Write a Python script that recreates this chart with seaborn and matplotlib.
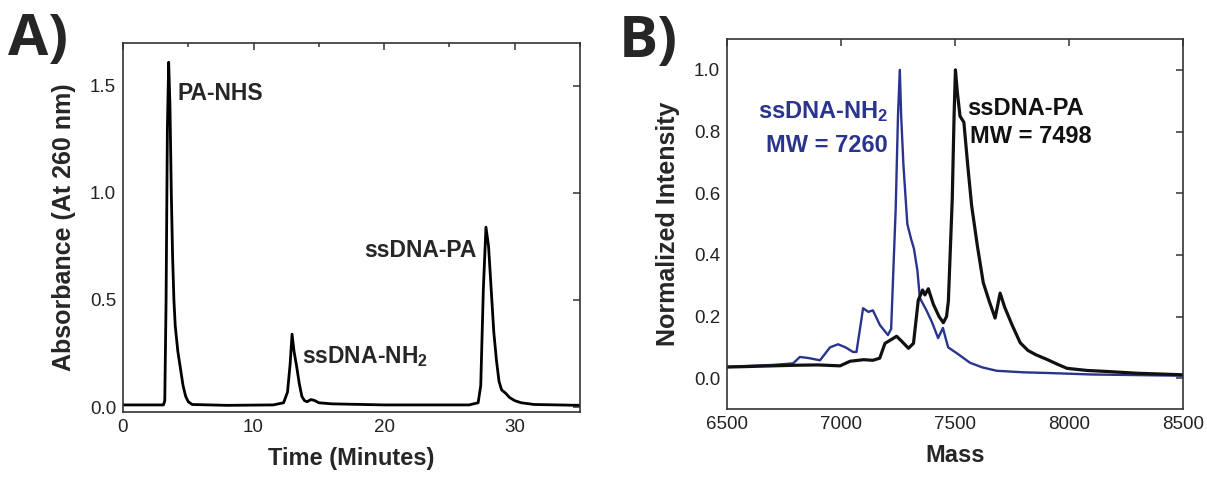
import pandas as pd
import matplotlib
matplotlib.use("Agg")
import matplotlib.pyplot as plt
from matplotlib.ticker import MultipleLocator
import seaborn as sns

RUTA_SALIDA = "out.png"

# --- Panel A: HPLC (tiempo en minutos, absorbancia a 260 nm) ---
tiempo = [0.0, 3.1, 3.2, 3.3, 3.4, 3.5, 3.6, 3.7, 3.8, 3.9, 4.0, 4.2, 4.4,
          4.6, 4.8, 5.0, 5.3, 8.0, 11.5, 12.3, 12.6, 12.8, 12.95, 13.1,
          13.3, 13.5, 13.7, 13.9, 14.1, 14.4, 14.7, 15.0, 16.0, 20.0, 26.5,
          27.2, 27.4, 27.6, 27.8, 28.0, 28.2, 28.4, 28.6, 28.8, 29.0, 29.3,
          29.6, 30.0, 30.5, 31.5, 35.0]
absorbancia = [0.01, 0.01, 0.03, 0.5, 1.3, 1.61, 1.4, 1.0, 0.7, 0.5, 0.38,
               0.26, 0.18, 0.10, 0.05, 0.025, 0.012, 0.008, 0.01, 0.02,
               0.07, 0.2, 0.34, 0.26, 0.19, 0.11, 0.05, 0.03, 0.025, 0.035,
               0.03, 0.02, 0.015, 0.01, 0.01, 0.02, 0.1, 0.55, 0.84, 0.75,
               0.55, 0.35, 0.22, 0.12, 0.08, 0.065, 0.045, 0.03, 0.02,
               0.012, 0.008]

# --- Panel B: MALDI (masa, intensidad normalizada) ---
masa_nh2 = [6500, 6600, 6700, 6790, 6820, 6860, 6908, 6952, 6987, 7020,
            7053, 7068, 7097, 7120, 7140, 7171, 7206, 7220, 7240, 7250,
            7258, 7264, 7274, 7291, 7308, 7320, 7335, 7346, 7375, 7400,
            7426, 7447, 7470, 7510, 7566, 7620, 7683, 7800, 7902, 8100,
            8300, 8500]
int_nh2 = [0.037, 0.040, 0.043, 0.048, 0.069, 0.065, 0.058, 0.10, 0.11,
           0.10, 0.085, 0.085, 0.227, 0.215, 0.22, 0.172, 0.14, 0.16, 0.55,
           0.85, 1.0, 0.85, 0.69, 0.50, 0.45, 0.42, 0.35, 0.26, 0.22, 0.18,
           0.13, 0.163, 0.10, 0.08, 0.05, 0.035, 0.024, 0.019, 0.017,
           0.012, 0.01, 0.008]

masa_pa = [6500, 6600, 6700, 6800, 6900, 6996, 7040, 7100, 7140, 7170,
           7193, 7220, 7244, 7266, 7296, 7318, 7339, 7358, 7368, 7383,
           7405, 7430, 7449, 7463, 7471, 7488, 7496, 7502, 7510, 7522,
           7539, 7556, 7573, 7598, 7624, 7650, 7676, 7698, 7718, 7752,
           7786, 7820, 7855, 7906, 7950, 7991, 8080, 8161, 8300, 8500]
int_pa = [0.036, 0.038, 0.040, 0.042, 0.043, 0.040, 0.055, 0.060, 0.058,
          0.065, 0.113, 0.125, 0.136, 0.12, 0.097, 0.113, 0.253, 0.286,
          0.27, 0.29, 0.24, 0.20, 0.18, 0.20, 0.25, 0.58, 0.85, 1.0, 0.93,
          0.85, 0.83, 0.69, 0.56, 0.43, 0.31, 0.25, 0.195, 0.276, 0.23,
          0.17, 0.115, 0.09, 0.076, 0.06, 0.045, 0.032, 0.025, 0.022,
          0.016, 0.011]

AZUL = "#29348f"
GRIS = "#333333"


def estilo_ejes(ax):
    for lado in ax.spines.values():
        lado.set_visible(True)
        lado.set_color(GRIS)
        lado.set_linewidth(1.2)
    ax.tick_params(which="both", direction="in", top=True, right=True,
                   color=GRIS, width=1.1, labelcolor="#222222",
                   labelsize=13.5, pad=5)
    ax.tick_params(which="major", length=5)
    ax.tick_params(which="minor", length=3)
    for t in ax.get_xticklabels() + ax.get_yticklabels():
        t.set_family("Liberation Sans")


def panel_a(fig):
    ax = fig.add_axes([0.1019, 0.1399, 0.3786, 0.7704])
    df = pd.DataFrame({"t": tiempo, "abs": absorbancia})
    sns.lineplot(data=df, x="t", y="abs", ax=ax, color="black", lw=2.0)
    ax.set_xlim(0, 35)
    ax.set_ylim(-0.023, 1.70)
    ax.xaxis.set_major_locator(MultipleLocator(10))
    ax.xaxis.set_minor_locator(MultipleLocator(5))
    ax.yaxis.set_major_locator(MultipleLocator(0.5))
    ax.set_xlabel("Time (Minutes)", fontsize=17, fontweight="bold",
                  family="Liberation Sans", labelpad=8)
    ax.set_ylabel("Absorbance (At 260 nm)", fontsize=18, fontweight="bold",
                  family="Liberation Sans", labelpad=10)
    estilo_ejes(ax)

    kw = dict(fontsize=16.5, fontweight="bold", family="Liberation Sans")
    ax.text(4.2, 1.435, "PA-NHS", va="baseline", **kw)
    ax.text(13.7, 0.205, "ssDNA-NH$_2$", va="baseline", **kw)
    ax.text(27.1, 0.70, "ssDNA-PA", va="baseline", ha="right", **kw)
    return ax


def panel_b(fig):
    ax = fig.add_axes([0.6023, 0.1461, 0.3778, 0.7724])
    df_nh2 = pd.DataFrame({"m": masa_nh2, "i": int_nh2})
    df_pa = pd.DataFrame({"m": masa_pa, "i": int_pa})
    sns.lineplot(data=df_nh2, x="m", y="i", ax=ax, color=AZUL, lw=1.7)
    sns.lineplot(data=df_pa, x="m", y="i", ax=ax, color="#111111", lw=2.3)
    ax.set_xlim(6500, 8500)
    ax.set_ylim(-0.1, 1.1)
    ax.xaxis.set_major_locator(MultipleLocator(500))
    ax.yaxis.set_major_locator(MultipleLocator(0.2))
    ax.set_xlabel("Mass", fontsize=17, fontweight="bold",
                  family="Liberation Sans", labelpad=8)
    ax.set_ylabel("Normalized Intensity", fontsize=18, fontweight="bold",
                  family="Liberation Sans", labelpad=10)
    estilo_ejes(ax)

    kw = dict(fontsize=17, fontweight="bold", family="Liberation Sans",
              va="baseline")
    ax.text(7206, 0.843, "ssDNA-NH$_2$", ha="right", color=AZUL, **kw)
    ax.text(7206, 0.735, "MW = 7260", ha="right", color=AZUL, **kw)
    ax.text(7553, 0.854, "ssDNA-PA", ha="left", color="#111111", **kw)
    ax.text(7566, 0.762, "MW = 7498", ha="left", color="#111111", **kw)
    return ax


if __name__ == "__main__":
    sns.set_style("white")
    plt.rcParams["font.family"] = ["Liberation Sans", "DejaVu Sans"]
    plt.rcParams["mathtext.fontset"] = "custom"
    plt.rcParams["mathtext.rm"] = "Liberation Sans:bold"
    plt.rcParams["mathtext.default"] = "rm"

    fig = plt.figure(figsize=(12.07, 4.79), dpi=100)
    panel_a(fig)
    panel_b(fig)

    fig.text(0.007, 0.885, "A)", fontsize=42, fontweight="bold",
             family="Open Sans", va="baseline")
    fig.text(0.513, 0.881, "B)", fontsize=42, fontweight="bold",
             family="Open Sans", va="baseline")

    fig.savefig(RUTA_SALIDA, dpi=100)
    plt.close(fig)
